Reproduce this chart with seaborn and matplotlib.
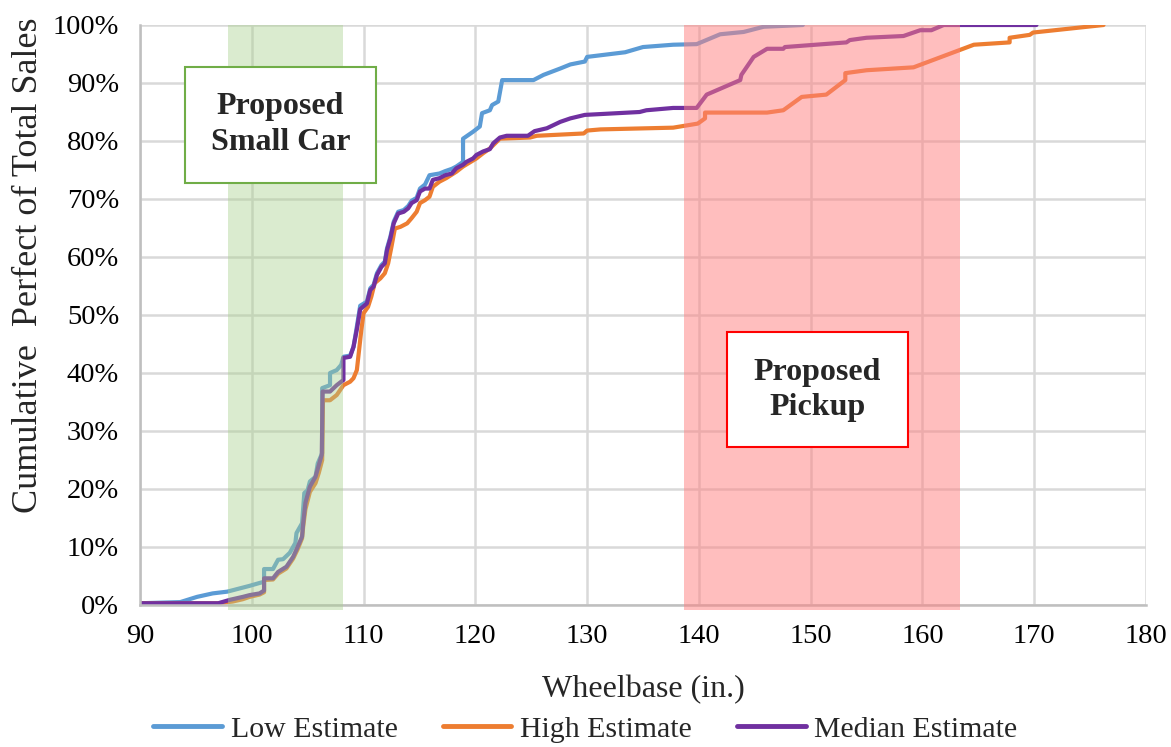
import matplotlib
matplotlib.use("Agg")
import matplotlib.pyplot as plt
import seaborn as sns
import pandas as pd
from matplotlib.patches import Rectangle
from matplotlib.lines import Line2D

# ---- data ----
low_x = [90, 93.6, 95.1, 96.5, 97.8, 99.0, 99.8, 100.7, 101.1, 101.1, 101.9, 102.35, 102.8, 103.4, 103.9, 104.0,
         104.5, 104.7, 105.0, 105.2, 105.7, 105.9, 106.3, 106.3, 107.0, 107.0, 107.6, 108.0, 108.2, 108.8, 109.1,
         109.4, 109.7, 110.3, 110.6, 110.9, 111.2, 111.6, 111.9, 112.1, 112.4, 112.7, 113.1, 113.6, 114.0, 114.3,
         114.75, 115.05, 115.5, 115.9, 116.8, 117.3, 117.9, 118.3, 118.9, 118.9, 119.8, 120.4, 120.6, 121.3, 121.5,
         122.05, 122.4, 125.2, 126.1, 127.6, 128.5, 129.8, 130.0, 133.4, 135.0, 137.7, 139.8, 141.9, 144.0, 145.8,
         149.3]
low_y = [0.3, 0.5, 1.4, 2.0, 2.3, 2.9, 3.3, 3.8, 4.0, 6.2, 6.2, 7.8, 7.9, 9.0, 10.7, 12.4,
         14.1, 19.3, 19.8, 21.3, 22.1, 24.4, 26.2, 37.4, 37.9, 40.0, 40.5, 41.4, 42.8, 43.0, 44.5,
         48.0, 51.6, 52.3, 54.6, 55.2, 57.2, 58.6, 59.2, 61.5, 63.5, 66.1, 67.8, 68.1, 68.8, 69.7,
         70.2, 71.8, 72.5, 74.1, 74.4, 74.8, 75.2, 75.6, 76.4, 80.4, 81.6, 82.5, 84.8, 85.3, 86.2,
         86.8, 90.5, 90.5, 91.4, 92.5, 93.2, 93.7, 94.5, 95.3, 96.2, 96.6, 96.7, 98.4, 98.8, 99.7,
         100.0]

high_x = [90, 97.0, 98.3, 99.2, 99.8, 100.7, 101.1, 101.1, 101.9, 102.35, 103.1, 103.7, 104.1, 104.5, 104.6,
          104.8, 105.2, 105.7, 106.0, 106.3, 106.37, 107.0, 107.6, 108.2, 108.8, 109.1, 109.4, 109.8, 110.0,
          110.4, 110.7, 111.0, 111.5, 111.9, 112.2, 112.5, 112.8, 113.3, 113.9, 114.3, 114.75, 115.05, 115.5,
          115.9, 116.2, 116.8, 117.4, 118.3, 118.9, 120.1, 120.7, 121.3, 122.2, 124.9, 125.5, 129.7, 130.0,
          131.2, 137.7, 139.9, 140.55, 140.55, 146.1, 147.55, 149.2, 151.4, 153.1, 153.1, 155.0, 159.2, 164.6,
          167.8, 167.8, 169.6, 169.9, 176.2]
high_y = [0.3, 0.3, 0.6, 1.0, 1.4, 1.8, 2.2, 4.3, 4.4, 5.4, 6.3, 8.0, 9.6, 11.5, 13.5,
          16.5, 19.5, 21.0, 22.8, 25.0, 35.3, 35.3, 36.2, 37.9, 38.5, 39.1, 40.5, 47.4, 50.3,
          51.4, 53.2, 55.5, 56.3, 57.2, 58.9, 61.8, 64.9, 65.2, 65.8, 66.7, 67.8, 69.3, 69.8,
          70.4, 72.1, 73.0, 73.6, 74.7, 75.6, 77.0, 77.9, 78.7, 80.4, 80.6, 80.9, 81.3, 81.8,
          82.0, 82.3, 83.0, 83.9, 84.9, 84.9, 85.3, 87.6, 88.0, 90.5, 91.7, 92.2, 92.7, 96.6,
          97.0, 97.8, 98.3, 98.7, 100.0]

median_x = [90, 97.0, 98.05, 99.2, 99.8, 100.7, 101.1, 101.1, 101.9, 102.35, 103.1, 103.7, 104.1, 104.5, 104.6,
            104.8, 105.2, 105.7, 105.95, 106.26, 106.34, 107.0, 107.6, 108.2, 108.2, 108.8, 109.1, 109.4, 109.7,
            110.3, 110.6, 110.9, 111.2, 111.6, 111.9, 112.1, 112.4, 112.7, 113.1, 113.6, 114.0, 114.3, 114.75,
            115.05, 115.5, 115.9, 116.2, 116.8, 117.3, 117.9, 118.3, 118.9, 119.2, 119.8, 120.1, 120.7, 121.3,
            121.6, 122.2, 122.8, 124.7, 125.3, 126.4, 127.6, 128.5, 129.8, 134.7, 135.3, 137.7, 139.8, 140.7,
            143.7, 143.8, 144.9, 146.1, 147.55, 147.7, 153.2, 153.5, 155.0, 158.3, 159.8, 160.8, 161.9, 170.2]
median_y = [0.3, 0.3, 0.9, 1.4, 1.7, 2.0, 2.5, 4.6, 4.6, 5.7, 6.6, 8.3, 10.0, 11.8, 14.1,
            17.6, 20.4, 22.1, 23.8, 25.9, 36.8, 36.8, 37.9, 38.8, 42.6, 42.8, 44.5, 47.5, 51.0,
            52.0, 54.3, 54.9, 56.9, 58.3, 58.9, 61.2, 63.2, 65.8, 67.5, 67.8, 68.4, 69.3, 69.8,
            71.3, 71.8, 71.8, 73.3, 73.6, 74.1, 74.4, 75.3, 75.9, 76.4, 77.0, 77.6, 78.2, 78.6,
            79.6, 80.6, 80.9, 80.9, 81.7, 82.2, 83.3, 83.9, 84.5, 85.0, 85.3, 85.7, 85.7, 88.0,
            90.5, 91.4, 94.5, 95.9, 95.9, 96.2, 97.0, 97.4, 97.8, 98.1, 99.1, 99.1, 100.0, 100.0]

series_names = ["Low Estimate", "High Estimate", "Median Estimate"]
series_colors = ["#5B9BD5", "#ED7D31", "#7030A0"]
x_ticks = [90, 100, 110, 120, 130, 140, 150, 160, 170, 180]
y_ticks = [0, 10, 20, 30, 40, 50, 60, 70, 80, 90, 100]
small_car_range = (97.9, 108.15)
pickup_range = (138.65, 163.4)

frames = []
for name, xs, ys in zip(series_names, [low_x, high_x, median_x], [low_y, high_y, median_y]):
    d = pd.DataFrame({"x": xs, "y": ys})
    d["series"] = name
    frames.append(d)
df = pd.concat(frames, ignore_index=True)

sns.set_theme(style="white")
plt.rcParams["font.family"] = ["Liberation Serif", "DejaVu Serif"]

fig = plt.figure(figsize=(11.71, 7.47), dpi=100)
ax = fig.add_axes([140 / 1171, 1 - 605 / 747, (1146 - 140) / 1171, (605 - 25) / 747])

sns.lineplot(data=df, x="x", y="y", hue="series", hue_order=series_names,
             palette=dict(zip(series_names, series_colors)), estimator=None, sort=False,
             linewidth=3.0, ax=ax, legend=False, zorder=2)

ax.axvspan(*small_car_range, ymin=-0.008, ymax=1, color="#A9D08E", alpha=0.42, lw=0, zorder=3, clip_on=False)
ax.axvspan(*pickup_range, ymin=-0.008, ymax=1, color="#FF7F7F", alpha=0.5, lw=0, zorder=3, clip_on=False)

ax.set_xlim(90, 180)
ax.set_ylim(0, 100)
ax.set_xticks(x_ticks)
ax.set_yticks(y_ticks)
ax.set_xticklabels([str(t) for t in x_ticks])
ax.set_yticklabels([f"{t}%" for t in y_ticks])
ax.tick_params(axis="both", length=0, labelsize=20.5, colors="black")
ax.tick_params(axis="x", pad=14)
ax.tick_params(axis="y", pad=15)
ax.grid(True, color="#D9D9D9", linewidth=1.8, zorder=0)
ax.set_axisbelow(True)
for s in ["top", "right"]:
    ax.spines[s].set_visible(False)
for s in ["left", "bottom"]:
    ax.spines[s].set_color("#BFBFBF")
    ax.spines[s].set_linewidth(1.8)

ax.set_xlabel("Wheelbase (in.)", fontsize=23, labelpad=18)
ax.set_ylabel("Cumulative  Perfect of Total Sales", fontsize=26)
ax.yaxis.set_label_coords(-0.094, 0.585)

# annotation boxes
ax.add_patch(Rectangle((94.03, 72.8), 111.11 - 94.03, 92.8 - 72.8, facecolor="white",
                       edgecolor="#70AD47", linewidth=1.5, zorder=5))
ax.text((94.03 + 111.11) / 2, 82.8, "Proposed\nSmall Car", ha="center", va="center",
        fontsize=23, fontweight="bold", zorder=6, linespacing=1.3)
ax.add_patch(Rectangle((142.51, 27.2), 158.71 - 142.51, 47.1 - 27.2, facecolor="white",
                       edgecolor="#FF0000", linewidth=1.5, zorder=5))
ax.text((142.51 + 158.71) / 2, 37.1, "Proposed\nPickup", ha="center", va="center",
        fontsize=23, fontweight="bold", zorder=6, linespacing=1.3)

handles = [Line2D([0], [0], color=c, lw=3.5) for c in series_colors]
fig.legend(handles, series_names, loc="lower center", ncol=3, frameon=False,
           bbox_to_anchor=(0.5, -0.03), fontsize=21.5, handlelength=2.3, columnspacing=1.5,
           handletextpad=0.3)

fig.savefig("out.png", dpi=100)
